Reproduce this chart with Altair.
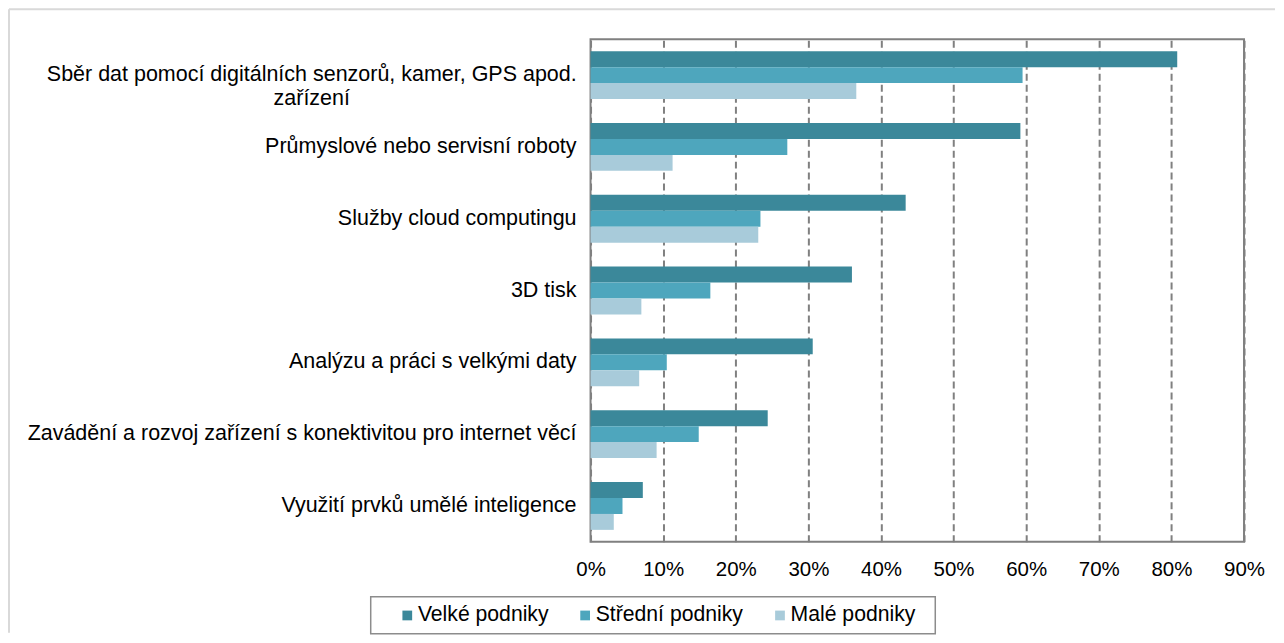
import altair as alt
import pandas as pd

FONT = "Liberation Sans"

categories = [
    "Sběr dat pomocí digitálních senzorů, kamer, GPS apod.\nzařízení",
    "Průmyslové nebo servisní roboty",
    "Služby cloud computingu\u00a0",
    "3D tisk",
    "Analýzu a práci s velkými daty",
    "Zavádění a rozvoj zařízení s konektivitou pro internet věcí",
    "Využití prvků umělé inteligence",
]
series = ["Velké podniky", "Střední podniky", "Malé podniky"]
velke = [80.8, 59.2, 43.4, 36.0, 30.6, 24.4, 7.2]
stredni = [59.5, 27.1, 23.4, 16.5, 10.5, 14.9, 4.4]
male = [36.6, 11.3, 23.1, 7.0, 6.7, 9.1, 3.2]
colors = ["#3B889A", "#4EA6BD", "#A8CBDA"]
x_ticks = [0, 10, 20, 30, 40, 50, 60, 70, 80, 90]

rows = []
for s, vals in zip(series, [velke, stredni, male]):
    for c, v in zip(categories, vals):
        rows.append({"cat": c, "series": s, "value": v})
df = pd.DataFrame(rows)

W, H = 654, 503
LFS = 21.5

y_enc = alt.Y("cat:N", sort=categories,
              scale=alt.Scale(paddingInner=1 / 3, paddingOuter=1 / 6), axis=None)

bars = alt.Chart(df).mark_bar().encode(
    x=alt.X("value:Q", scale=alt.Scale(domain=[0, 90], nice=False),
            axis=alt.Axis(values=x_ticks, labelExpr="datum.value + '%'", title=None,
                          grid=True, gridColor="#808080", gridDash=[7, 4], gridWidth=2,
                          domain=False, ticks=False, tickSize=0, labelPadding=18,
                          labelFlush=False, labelOverlap=False,
                          labelFontSize=20.5, labelFont=FONT, labelColor="#000")),
    y=y_enc,
    yOffset=alt.YOffset("series:N", sort=series, scale=alt.Scale(domain=series)),
    color=alt.Color("series:N", sort=series,
                    scale=alt.Scale(domain=series, range=colors),
                    legend=alt.Legend(orient="none", legendX=-194, legendY=566,
                                      direction="horizontal", title=None,
                                      symbolType="square", symbolSize=95,
                                      symbolStrokeWidth=0,
                                      labelFontSize=21.2, labelFont=FONT, labelColor="#000",
                                      columnPadding=26, labelOffset=0, padding=0)),
)

lab_first = alt.Chart(pd.DataFrame({"cat": categories[:1]})).mark_text(
    align="center", baseline="middle", fontSize=LFS, font=FONT, color="#000",
    lineBreak="\n", lineHeight=24,
).encode(y=alt.Y("cat:N", sort=categories), x=alt.value(-279), text="cat:N")

lab_rest = alt.Chart(pd.DataFrame({"cat": categories[1:]})).mark_text(
    align="right", baseline="middle", fontSize=LFS, font=FONT, color="#000",
).encode(y=alt.Y("cat:N", sort=categories), x=alt.value(-14), text="cat:N")

frame_df = pd.DataFrame({"a": [0]})
top_rule = alt.Chart(frame_df).mark_rule(color="#d9d9d9", strokeWidth=2).encode(
    x=alt.value(-582), x2=alt.value(685), y=alt.value(-30))
left_rule = alt.Chart(frame_df).mark_rule(color="#d9d9d9", strokeWidth=2).encode(
    x=alt.value(-582), y=alt.value(-30), y2=alt.value(594))
legend_box = alt.Chart(frame_df).mark_rect(fillOpacity=0, stroke="#8c8c8c", strokeWidth=1.5).encode(
    x=alt.value(-220), x2=alt.value(345), y=alt.value(558), y2=alt.value(595))

chart = alt.layer(top_rule, left_rule, legend_box, bars, lab_first, lab_rest).properties(
    width=W, height=H, padding=0, background="white"
).configure(font=FONT).configure_view(stroke="#808080", strokeWidth=2)

chart.save("out.html", embed_options={"renderer": "svg", "actions": False})
